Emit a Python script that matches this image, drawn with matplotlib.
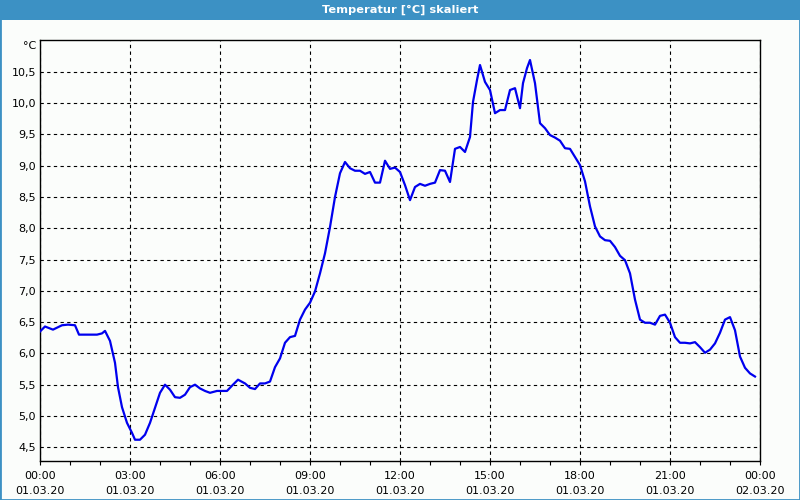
import matplotlib
matplotlib.use("Agg")
import matplotlib.pyplot as plt
from matplotlib.patches import Rectangle
import numpy as np

# time in minutes since 01.03.20 00:00
minutes = [0, 10, 26, 44, 56, 70, 78, 114, 124, 130,
           140, 150, 156, 164, 174, 184, 190, 200, 210, 220,
           230, 240, 250, 260, 270, 280, 290, 300, 310, 320,
           330, 340, 354, 374, 386, 396, 410, 420, 430, 440,
           450, 460, 470, 480, 490, 500, 510, 520, 530, 540,
           550, 560, 570, 580, 590, 600, 610, 620, 630, 640,
           650, 660, 670, 680, 690, 700, 710, 720, 730, 740,
           750, 760, 770, 780, 790, 800, 810, 820, 830, 840,
           850, 860, 866, 874, 880, 890, 900, 910, 920, 930,
           940, 950, 960, 966, 974, 980, 990, 1000, 1010, 1020,
           1030, 1040, 1050, 1060, 1070, 1080, 1090, 1100, 1110, 1120,
           1130, 1140, 1150, 1160, 1170, 1180, 1190, 1200, 1210, 1220,
           1230, 1240, 1250, 1260, 1270, 1280, 1290, 1300, 1310, 1320,
           1330, 1340, 1350, 1360, 1370, 1380, 1390, 1400, 1410, 1420,
           1430]
temps = [6.35, 6.43, 6.38, 6.45, 6.46, 6.45, 6.30, 6.30, 6.32, 6.36,
         6.20, 5.85, 5.46, 5.14, 4.89, 4.73, 4.62, 4.62, 4.70, 4.89,
         5.13, 5.37, 5.50, 5.42, 5.30, 5.29, 5.34, 5.46, 5.50, 5.44,
         5.40, 5.37, 5.40, 5.40, 5.50, 5.58, 5.52, 5.45, 5.43, 5.52,
         5.52, 5.55, 5.78, 5.92, 6.17, 6.26, 6.28, 6.54, 6.70, 6.81,
         6.99, 7.28, 7.60, 8.02, 8.50, 8.88, 9.06, 8.96, 8.92, 8.92,
         8.87, 8.90, 8.73, 8.73, 9.08, 8.95, 8.97, 8.90, 8.69, 8.45,
         8.66, 8.71, 8.68, 8.71, 8.73, 8.93, 8.92, 8.74, 9.27, 9.30,
         9.22, 9.46, 10.02, 10.37, 10.61, 10.34, 10.21, 9.84, 9.89, 9.89,
         10.21, 10.24, 9.92, 10.32, 10.56, 10.69, 10.32, 9.68, 9.60, 9.49,
         9.45, 9.40, 9.28, 9.27, 9.14, 9.01, 8.75, 8.35, 8.03, 7.87,
         7.81, 7.80, 7.70, 7.56, 7.49, 7.28, 6.86, 6.54, 6.49, 6.49,
         6.46, 6.60, 6.62, 6.49, 6.26, 6.17, 6.17, 6.16, 6.18, 6.10,
         6.01, 6.06, 6.16, 6.33, 6.54, 6.58, 6.37, 5.95, 5.77, 5.68,
         5.63]

x_ticks = [0, 3, 6, 9, 12, 15, 18, 21, 24]
x_labels = ["00:00\n01.03.20", "03:00\n01.03.20", "06:00\n01.03.20", "09:00\n01.03.20",
            "12:00\n01.03.20", "15:00\n01.03.20", "18:00\n01.03.20", "21:00\n01.03.20",
            "00:00\n02.03.20"]
y_ticks = [4.5, 5.0, 5.5, 6.0, 6.5, 7.0, 7.5, 8.0, 8.5, 9.0, 9.5, 10.0, 10.5]
y_labels = ["4,5", "5,0", "5,5", "6,0", "6,5", "7,0", "7,5", "8,0", "8,5", "9,0",
            "9,5", "10,0", "10,5"]
unit_label = "°C"
title = "Temperatur [°C] skaliert"

plt.rcParams['font.family'] = ['DejaVu Sans']
bg = '#fbfdfb'
blue_bar = '#3c91c4'

fig = plt.figure(figsize=(8, 5), dpi=100, facecolor=bg)

# border and title bar
fig.patches.append(Rectangle((0, 0), 1, 1, transform=fig.transFigure, fill=False,
                             edgecolor=blue_bar, linewidth=2, zorder=0))
fig.patches.append(Rectangle((0, 1 - 20 / 500), 1, 20 / 500, transform=fig.transFigure,
                             facecolor=blue_bar, edgecolor='none', zorder=1))
fig.text(0.5, 1 - 10 / 500, title, color='white', ha='center', va='center',
         fontsize=8.2, fontweight='bold')

ax = fig.add_axes([40 / 800, 39 / 500, 720 / 800, 421 / 500])
ax.set_facecolor(bg)

hours = np.array(minutes) / 60.0
ax.plot(hours, temps, color='#0000ee', linewidth=1.6, zorder=3)

ax.set_xlim(0, 24)
ax.set_ylim(4.28, 11.01)

ax.set_xticks(x_ticks)
ax.set_xticklabels(x_labels, fontsize=8, linespacing=1.55)
ax.set_xticks(range(0, 25), minor=True)
ax.tick_params(axis='x', which='both', direction='out', length=3, width=0.8,
               pad=4.4, colors='black')
ax.set_yticks(y_ticks)
ax.set_yticklabels(y_labels, fontsize=8)
ax.tick_params(axis='y', length=0, pad=3)

ax.grid(True, which='major', color='black', linestyle=(0, (3, 3)), linewidth=0.8)
for s in ax.spines.values():
    s.set_color('black')
    s.set_linewidth(1.0)

ax.text(-0.005, 10.92, unit_label, transform=ax.get_yaxis_transform(), ha='right',
        va='center', fontsize=8)

fig.savefig("out.png", dpi=100, facecolor=bg)
